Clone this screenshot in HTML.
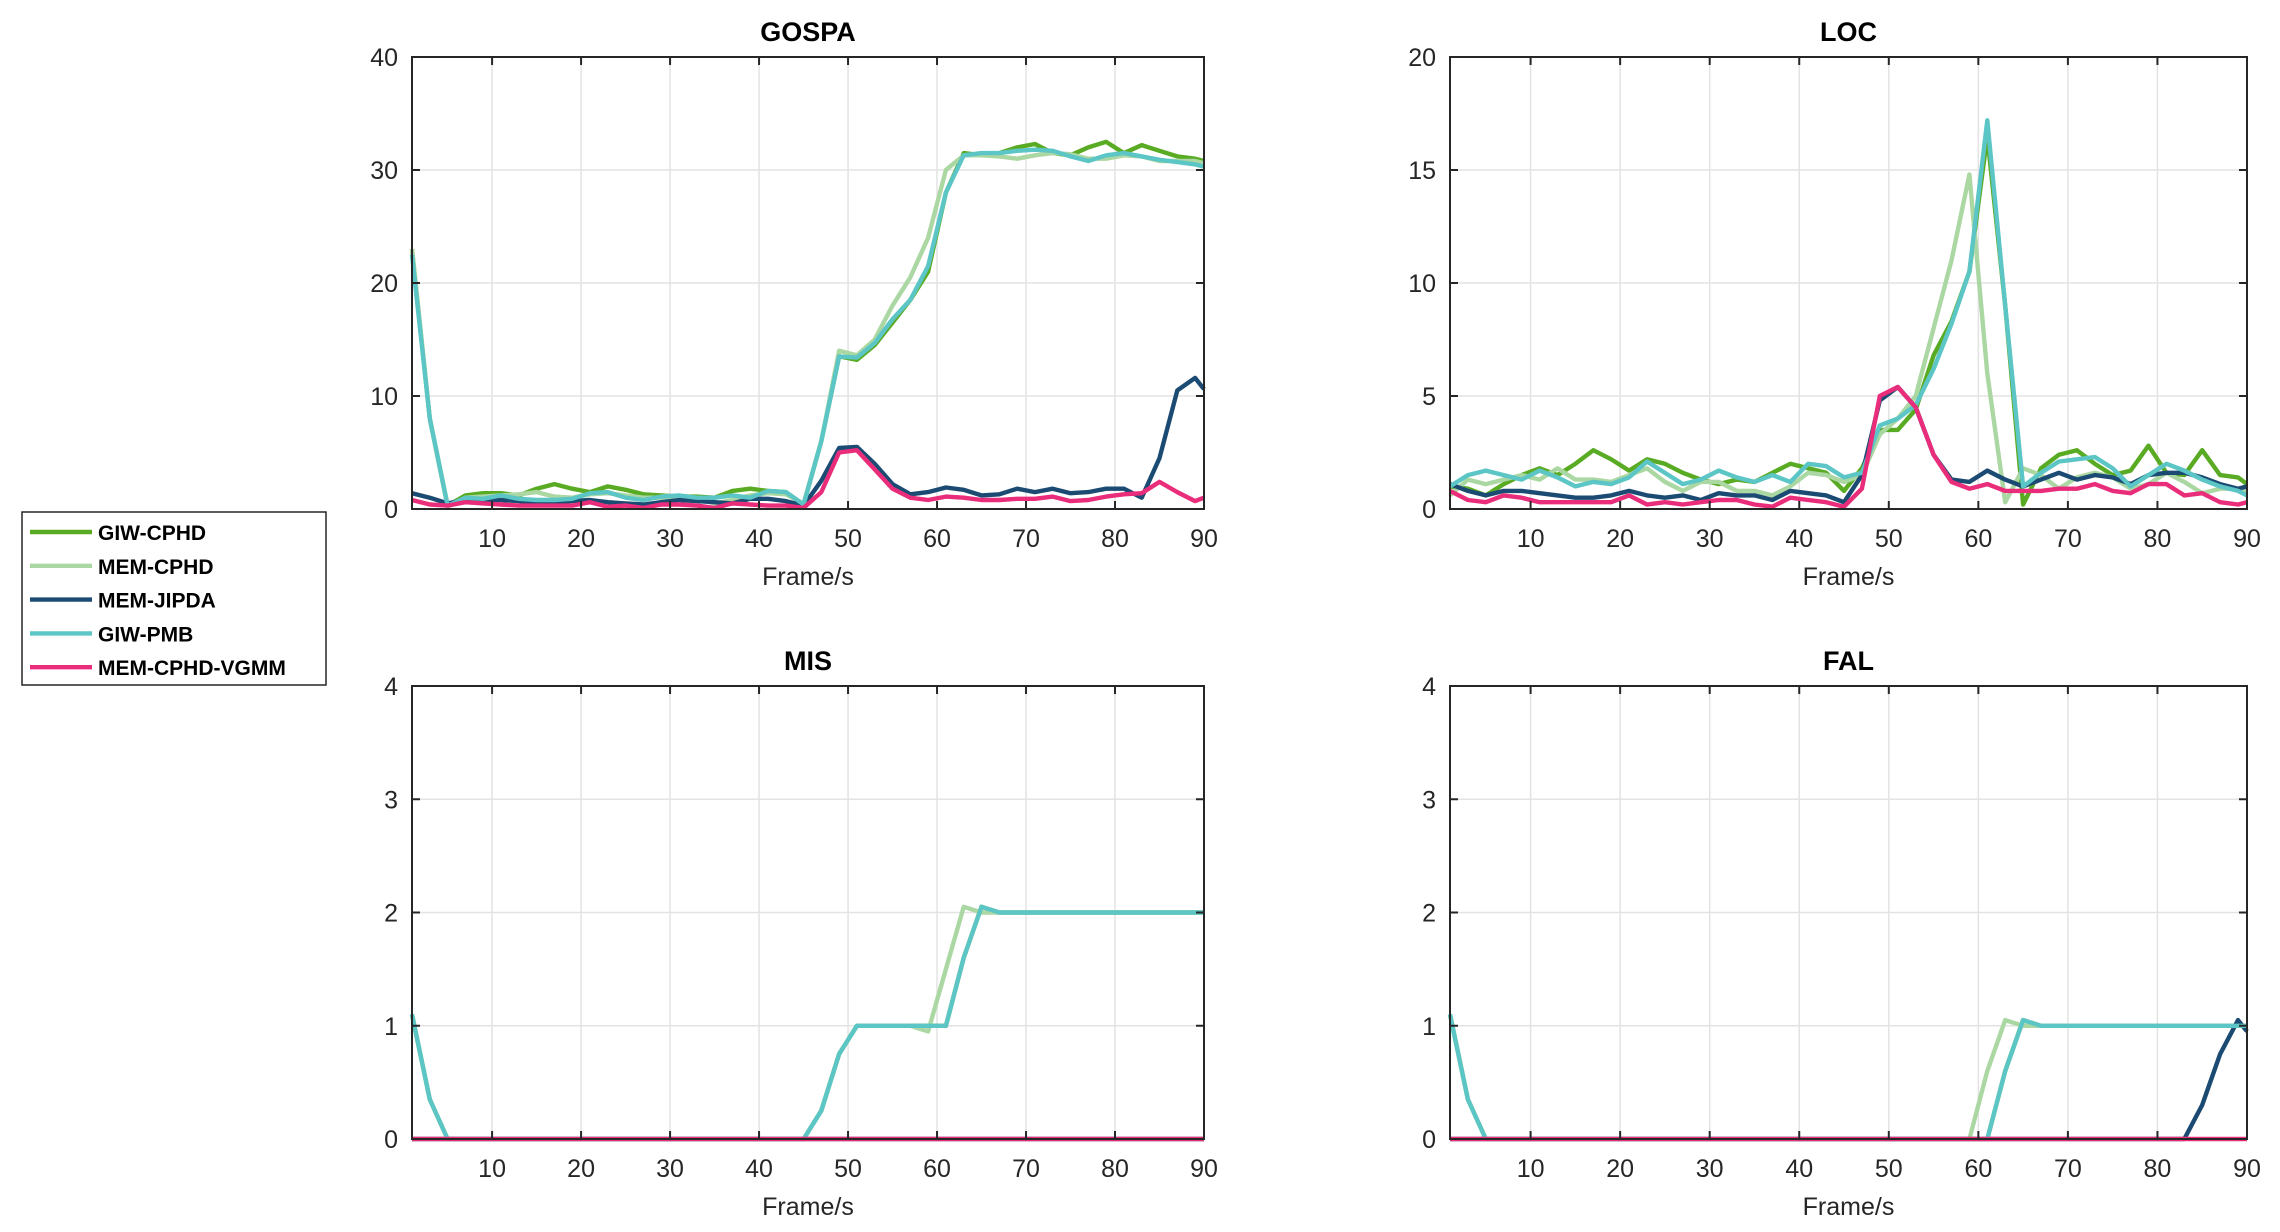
<!DOCTYPE html>
<html><head><meta charset="utf-8"><style>
html,body{margin:0;padding:0;background:#fff;}
svg{display:block;font-family:"Liberation Sans",Arial,sans-serif;}
</style></head><body>
<svg id="chart" width="2280" height="1232" viewBox="0 0 2280 1232"></svg>
<script>
const frames=[1,3,5,7,9,11,13,15,17,19,21,23,25,27,29,31,33,35,37,39,41,43,45,47,49,51,53,55,57,59,61,63,65,67,69,71,73,75,77,79,81,83,85,87,89,90];
const seriesNames=["GIW-CPHD","MEM-CPHD","MEM-JIPDA","GIW-PMB","MEM-CPHD-VGMM"];
const seriesColors=["#5aab24","#abd7a3","#1b4b72","#5cc5c5","#e92d7a"];
const z=n=>Array(n).fill(0);
const gospaGiwCphd=[23,8,0.3,1.2,1.4,1.4,1.2,1.8,2.2,1.8,1.5,2.0,1.7,1.3,1.2,1.1,1.1,1.0,1.6,1.8,1.6,1.5,0.4,6,13.5,13.2,14.5,16.5,18.5,21,28,31.5,31.3,31.5,32,32.3,31.5,31.3,32,32.5,31.5,32.2,31.7,31.2,31,30.8];
const gospaMemCphd=[23,8,0.2,1.0,1.1,1.2,1.3,1.5,1.1,1.0,1.3,1.4,1.2,1.0,1.0,1.0,0.9,0.5,0.8,1.2,1.4,1.3,0.5,6,14,13.6,15,18,20.5,24,30,31.3,31.3,31.2,31,31.3,31.5,31.4,31,31,31.3,31.2,30.8,30.8,30.8,30.6];
const gospaJipda=[1.4,1.0,0.5,0.8,0.8,0.8,0.7,0.5,0.6,0.7,0.8,0.6,0.5,0.4,0.6,0.8,0.7,0.6,0.5,0.9,0.9,0.7,0.3,2.5,5.4,5.5,4,2.2,1.3,1.5,1.9,1.7,1.2,1.3,1.8,1.5,1.8,1.4,1.5,1.8,1.8,1.0,4.5,10.5,11.6,10.6];
const gospaGiwPmb=[22.5,8,0.3,1.0,0.9,1.2,0.9,0.8,0.8,0.9,1.4,1.5,1.0,0.8,1.1,1.2,1.0,1.0,1.2,1.0,1.6,1.5,0.4,6,13.5,13.4,14.7,16.8,18.5,21.5,28,31.3,31.5,31.5,31.7,31.8,31.7,31.2,30.8,31.3,31.5,31.2,30.9,30.7,30.5,30.3];
const gospaVgmm=[0.8,0.4,0.3,0.6,0.5,0.4,0.3,0.3,0.3,0.3,0.6,0.2,0.3,0.1,0.4,0.4,0.3,0.1,0.5,0.4,0.3,0.3,0.1,1.5,5,5.2,3.5,1.8,1.0,0.8,1.1,1.0,0.8,0.8,0.9,0.9,1.1,0.7,0.8,1.1,1.3,1.4,2.4,1.5,0.7,1.0];
const locGiwCphd=[1.0,0.9,0.6,1.1,1.5,1.8,1.5,2.0,2.6,2.2,1.7,2.2,2.0,1.6,1.3,1.1,1.3,1.2,1.6,2.0,1.8,1.6,0.8,1.8,3.5,3.5,4.4,6.8,8.3,10.5,16.5,9,0.2,1.8,2.4,2.6,2.0,1.5,1.7,2.8,1.6,1.5,2.6,1.5,1.4,1.1];
const locMemCphd=[0.6,1.3,1.1,1.3,1.5,1.3,1.8,1.3,1.3,1.2,1.5,1.8,1.2,0.8,1.2,1.2,0.8,0.8,0.6,1.0,1.6,1.5,1.2,1.5,3.3,4.0,5.0,8.0,11,14.8,6,0.3,1.8,1.5,0.9,1.4,1.6,1.4,0.9,1.1,1.6,1.2,0.7,0.9,0.9,0.8];
const locJipda=[1.1,0.8,0.6,0.8,0.8,0.7,0.6,0.5,0.5,0.6,0.8,0.6,0.5,0.6,0.4,0.7,0.6,0.6,0.4,0.8,0.7,0.6,0.3,1.5,4.8,5.4,4.5,2.4,1.3,1.2,1.7,1.3,1.0,1.3,1.6,1.3,1.5,1.4,1.1,1.5,1.6,1.6,1.4,1.1,0.9,1.0];
const locGiwPmb=[1.0,1.5,1.7,1.5,1.3,1.7,1.4,1.0,1.2,1.1,1.4,2.1,1.6,1.1,1.3,1.7,1.4,1.2,1.5,1.2,2.0,1.9,1.4,1.6,3.7,4.0,4.6,6.2,8.2,10.5,17.2,9,1.0,1.6,2.1,2.2,2.3,1.8,1.0,1.5,2.0,1.7,1.3,1.0,0.8,0.6];
const locVgmm=[0.8,0.4,0.3,0.6,0.5,0.3,0.3,0.3,0.3,0.3,0.6,0.2,0.3,0.2,0.3,0.4,0.4,0.2,0.1,0.5,0.4,0.3,0.1,0.9,5.0,5.4,4.5,2.4,1.2,0.9,1.1,0.8,0.8,0.8,0.9,0.9,1.1,0.8,0.7,1.1,1.1,0.6,0.7,0.3,0.2,0.3];
const misMemCphd=[1.1,0.35,0,0,0,0,0,0,0,0,0,0,0,0,0,0,0,0,0,0,0,0,0,0.25,0.75,1,1,1,1,0.95,1.5,2.05,2,2,2,2,2,2,2,2,2,2,2,2,2,2];
const misGiwPmb=[1.1,0.35,0,0,0,0,0,0,0,0,0,0,0,0,0,0,0,0,0,0,0,0,0,0.25,0.75,1,1,1,1,1,1,1.6,2.05,2,2,2,2,2,2,2,2,2,2,2,2,2];
const falMemCphd=[1.1,0.35,0,0,0,0,0,0,0,0,0,0,0,0,0,0,0,0,0,0,0,0,0,0,0,0,0,0,0,0,0.6,1.05,1,1,1,1,1,1,1,1,1,1,1,1,1,1];
const falJipda=[0,0,0,0,0,0,0,0,0,0,0,0,0,0,0,0,0,0,0,0,0,0,0,0,0,0,0,0,0,0,0,0,0,0,0,0,0,0,0,0,0,0,0.3,0.75,1.05,0.95];
const falGiwPmb=[1.1,0.35,0,0,0,0,0,0,0,0,0,0,0,0,0,0,0,0,0,0,0,0,0,0,0,0,0,0,0,0,0,0.6,1.05,1,1,1,1,1,1,1,1,1,1,1,1,1];
const xTicks=[10,20,30,40,50,60,70,80,90];
const panels=[
 {name:"gospa",title:"GOSPA",x0:412,x1:1204,y0:57,y1:509,ymax:40,yTicks:[0,10,20,30,40],data:[gospaGiwCphd,gospaMemCphd,gospaJipda,gospaGiwPmb,gospaVgmm]},
 {name:"loc",title:"LOC",x0:1450,x1:2247,y0:57,y1:509,ymax:20,yTicks:[0,5,10,15,20],data:[locGiwCphd,locMemCphd,locJipda,locGiwPmb,locVgmm]},
 {name:"mis",title:"MIS",x0:412,x1:1204,y0:686,y1:1139,ymax:4,yTicks:[0,1,2,3,4],data:[misGiwPmb,misMemCphd,z(46),misGiwPmb,z(46)]},
 {name:"fal",title:"FAL",x0:1450,x1:2247,y0:686,y1:1139,ymax:4,yTicks:[0,1,2,3,4],data:[falGiwPmb,falMemCphd,falJipda,falGiwPmb,z(46)]}
];
const NS="http://www.w3.org/2000/svg";
const svg=document.getElementById('chart');
function mk(tag,attrs,parent,text){const e=document.createElementNS(NS,tag);for(const k in attrs)e.setAttribute(k,attrs[k]);if(text!==undefined)e.textContent=text;(parent||svg).appendChild(e);return e;}
panels.forEach(p=>{
 const g=mk('g',{});
 
 
 const sx=f=>p.x0+(f-1)/89*(p.x1-p.x0);
 const sy=v=>p.y1-v/p.ymax*(p.y1-p.y0);
 xTicks.forEach(t=>{
  const l=mk('line',{x1:sx(t),x2:sx(t),y1:p.y0,y2:p.y1,stroke:'#e3e3e3','stroke-width':1.5},g);
  
  
 });
 p.yTicks.forEach(t=>{
  const l=mk('line',{x1:p.x0,x2:p.x1,y1:sy(t),y2:sy(t),stroke:'#e3e3e3','stroke-width':1.5},g);
  
  
 });
 p.data.forEach((arr,si)=>{
  const pts=frames.map((f,i)=>sx(f).toFixed(1)+','+sy(arr[i]).toFixed(1)).join(' ');
  const pl=mk('polyline',{points:pts,fill:'none',stroke:seriesColors[si],'stroke-width':4.4,'stroke-linejoin':'round'},g);
  
  
 });
 xTicks.forEach(t=>{
  mk('line',{x1:sx(t),x2:sx(t),y1:p.y1,y2:p.y1-8,stroke:'#262626','stroke-width':2},g);
  mk('line',{x1:sx(t),x2:sx(t),y1:p.y0,y2:p.y0+8,stroke:'#262626','stroke-width':2},g);
  const tx=mk('text',{x:sx(t),y:p.y1+38,'text-anchor':'middle','font-size':25,fill:'#262626'},g,String(t));
  
  
 });
 p.yTicks.forEach(t=>{
  mk('line',{x1:p.x0,x2:p.x0+8,y1:sy(t),y2:sy(t),stroke:'#262626','stroke-width':2},g);
  mk('line',{x1:p.x1,x2:p.x1-8,y1:sy(t),y2:sy(t),stroke:'#262626','stroke-width':2},g);
  const ty=mk('text',{x:p.x0-14,y:sy(t)+9,'text-anchor':'end','font-size':25,fill:'#262626'},g,String(t));
  
  
 });
 const box=mk('rect',{x:p.x0,y:p.y0,width:p.x1-p.x0,height:p.y1-p.y0,fill:'none',stroke:'#262626','stroke-width':2},g);
 
 
 const ti=mk('text',{x:(p.x0+p.x1)/2,y:p.y0-16,'text-anchor':'middle','font-size':27,'font-weight':'bold',fill:'#000'},g,p.title);
 
 
 const xl=mk('text',{x:(p.x0+p.x1)/2,y:p.y1+76,'text-anchor':'middle','font-size':25,fill:'#262626'},g,'Frame/s');
 
 
});
const lg=mk('g',{});


mk('rect',{x:22,y:512,width:304,height:173,fill:'#fff',stroke:'#262626','stroke-width':1.5},lg);
seriesNames.forEach((n,i)=>{
 const y=532+i*33.8;
 const e=mk('g',{},lg);
 
 
 mk('line',{x1:30,x2:92,y1:y,y2:y,stroke:seriesColors[i],'stroke-width':4.4},e);
 mk('text',{x:98,y:y+8,'font-size':21,'font-weight':'bold',fill:'#000'},e,n);
});
</script>
</body></html>
